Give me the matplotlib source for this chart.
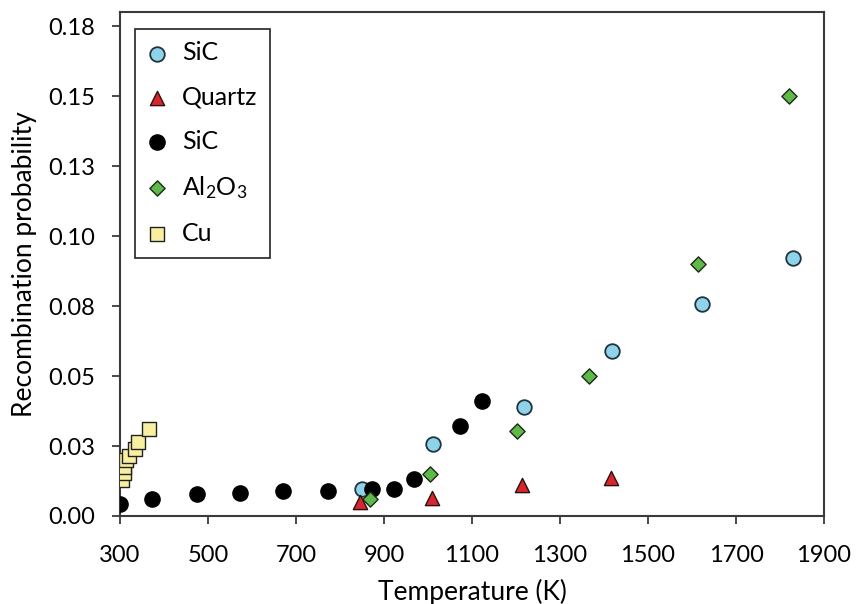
import matplotlib
matplotlib.use("Agg")
import matplotlib.pyplot as plt

plt.rcParams['font.family'] = ['Lato', 'DejaVu Sans']
plt.rcParams['mathtext.default'] = 'regular'

# data
sic_T = [850, 1011, 1218, 1418, 1623, 1829]
sic_p = [0.0095, 0.0258, 0.0388, 0.0589, 0.0756, 0.0923]

quartz_T = [846, 1010, 1214, 1417]
quartz_p = [0.0051, 0.0066, 0.0110, 0.0137]

sic2_T = [300, 372, 474, 573, 671, 773, 873, 922, 969, 1073, 1123]
sic2_p = [0.0043, 0.0061, 0.0080, 0.0083, 0.0090, 0.0090, 0.0095, 0.0097, 0.0131, 0.0320, 0.0409]

al_T = [869, 1004, 1202, 1365, 1614, 1821]
al_p = [0.0060, 0.0151, 0.0302, 0.0500, 0.0900, 0.1499]

cu_T = [305, 308, 310, 314, 321, 333, 342, 367]
cu_p = [0.0130, 0.0155, 0.0175, 0.0199, 0.0216, 0.0240, 0.0263, 0.0311]

xticks = [300, 500, 700, 900, 1100, 1300, 1500, 1700, 1900]
yticks = [0.0, 0.025, 0.05, 0.075, 0.1, 0.125, 0.15, 0.175]
ylabels = ["0.00", "0.03", "0.05", "0.08", "0.10", "0.13", "0.15", "0.18"]

fig = plt.figure(figsize=(8.56, 6.04), dpi=100)
ax = fig.add_axes([0.1402, 0.1457, 0.8224, 0.8344])

ax.scatter(sic_T, sic_p, s=110, marker='o', facecolor='#8fd3ea', edgecolor='#1f3440', linewidth=1.3, label='SiC', zorder=3)
ax.scatter(quartz_T, quartz_p, s=105, marker='^', facecolor='#d8262c', edgecolor='#2a1010', linewidth=1.0, label='Quartz', zorder=3)
ax.scatter(sic2_T, sic2_p, s=120, marker='o', facecolor='black', edgecolor='black', linewidth=1.0, label='SiC', zorder=3)
ax.scatter(al_T, al_p, s=60, marker='D', facecolor='#5fb84a', edgecolor='#1a2a14', linewidth=1.0, label='Al$_2$O$_3$', zorder=4)
ax.scatter(cu_T, cu_p, s=110, marker='s', facecolor='#f8efa0', edgecolor='#222222', linewidth=1.0, label='Cu', zorder=3)

ax.set_xlim(300, 1900)
ax.set_ylim(0, 0.18)
ax.set_xticks(xticks)
ax.set_yticks(yticks)
ax.set_yticklabels(ylabels)

for sp in ax.spines.values():
    sp.set_linewidth(1.5)
    sp.set_color('#3a3a3a')
ax.tick_params(direction='out', length=6, width=1.3, color='#3a3a3a', labelsize=17, pad=12)
ax.tick_params(axis='x', pad=15)

ax.set_xlabel("Temperature (K)", fontsize=19, labelpad=9)
ax.set_ylabel("Recombination probability", fontsize=19, labelpad=8)

leg = ax.legend(loc='upper left', bbox_to_anchor=(0.021, 0.967), fontsize=18,
                fancybox=False, framealpha=1, edgecolor='#222222',
                labelspacing=0.85, handletextpad=0.6, borderpad=0.5,
                handlelength=0.8, markerscale=1.0, borderaxespad=0)
leg.get_frame().set_linewidth(1.2)

plt.savefig("out.png", dpi=100)
